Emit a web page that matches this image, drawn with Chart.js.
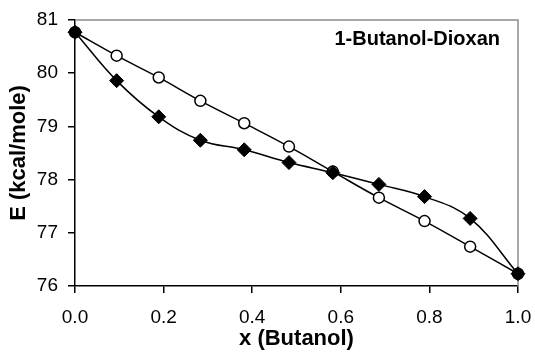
<!DOCTYPE html>
<html>
<head>
<meta charset="utf-8">
<script src="https://cdn.jsdelivr.net/npm/chart.js@4"></script>
<style>
  html, body { margin: 0; padding: 0; background: #fff; }
  #wrap { width: 535px; height: 354px; }
</style>
</head>
<body>
<div id="wrap"><canvas id="c" width="535" height="354"></canvas></div>
<script>
const xValues = [0.0, 0.094, 0.189, 0.283, 0.382, 0.483, 0.582, 0.686, 0.789, 0.892, 1.0];
const circleValues = [80.77, 80.33, 79.92, 79.48, 79.06, 78.62, 78.15, 77.66, 77.22, 76.74, 76.23];
const diamondValues = [80.77, 79.86, 79.18, 78.74, 78.56, 78.32, 78.13, 77.91, 77.68, 77.27, 76.23];
const xTicks = [0.0, 0.2, 0.4, 0.6, 0.8, 1.0];
const yTicks = [76, 77, 78, 79, 80, 81];
const chartLabel = '1-Butanol-Dioxan';
const xTitle = 'x (Butanol)';
const yTitle = 'E (kcal/mole)';

const toPoints = (xs, ys) => xs.map((x, i) => ({ x: x, y: ys[i] }));
const FONT = '"Liberation Sans", Arial, sans-serif';

const frame = {
  id: 'frame',
  beforeDatasetsDraw(chart) {
    const { ctx, chartArea: a } = chart;
    ctx.save();
    ctx.strokeStyle = '#8c8c8c';
    ctx.lineWidth = 1.5;
    ctx.beginPath();
    ctx.moveTo(a.left, a.top);
    ctx.lineTo(a.right, a.top);
    ctx.lineTo(a.right, a.bottom);
    ctx.stroke();
    ctx.restore();
  },
  afterDatasetsDraw(chart) {
    const { ctx, chartArea: a } = chart;
    ctx.save();
    ctx.fillStyle = '#000';
    ctx.font = 'bold 20px ' + FONT;
    ctx.textAlign = 'right';
    ctx.textBaseline = 'middle';
    ctx.fillText(chartLabel, a.right - 18, a.top + 19);
    ctx.restore();
  }
};

new Chart(document.getElementById('c'), {
  type: 'scatter',
  data: {
    datasets: [
      {
        label: 'diamonds',
        data: toPoints(xValues, diamondValues),
        showLine: true,
        clip: false,
        borderColor: '#000',
        borderWidth: 1.5,
        tension: 0.4,
        pointStyle: 'rectRot',
        pointRadius: 7,
        pointBackgroundColor: '#000',
        pointBorderColor: '#000',
        pointBorderWidth: 1
      },
      {
        label: 'circles',
        data: toPoints(xValues, circleValues),
        showLine: true,
        clip: false,
        borderColor: '#000',
        borderWidth: 1.5,
        tension: 0.4,
        pointStyle: 'circle',
        pointRadius: 5.5,
        pointBackgroundColor: '#fff',
        pointBorderColor: '#000',
        pointBorderWidth: 1.5
      }
    ]
  },
  options: {
    responsive: false,
    animation: false,
    layout: { autoPadding: false, padding: { left: 0, top: 20, right: 17, bottom: 0 } },
    plugins: { legend: { display: false }, tooltip: { enabled: false } },
    scales: {
      x: {
        type: 'linear',
        min: 0, max: 1,
        afterBuildTicks: (s) => { s.ticks = xTicks.map(v => ({ value: v })); },
        afterFit: (s) => { s.height = 68; s.paddingLeft = 0; s.paddingRight = 13; },
        grid: { drawOnChartArea: false, drawTicks: true, tickLength: 7, color: '#000', lineWidth: 1.5 },
        border: { color: '#000', width: 1.5 },
        ticks: {
          color: '#000',
          padding: 13,
          font: { family: FONT, size: 19 },
          callback: (v) => Number(v).toFixed(1),
          maxRotation: 0
        },
        title: {
          display: true, text: xTitle, color: '#000',
          font: { family: FONT, size: 22, weight: 'bold' },
          padding: { top: 0, bottom: 2 }
        }
      },
      y: {
        type: 'linear',
        min: 76, max: 81,
        afterBuildTicks: (s) => { s.ticks = yTicks.map(v => ({ value: v })); },
        afterFit: (s) => { s.width = 75; s.paddingTop = 10; s.paddingBottom = 10; },
        grid: { drawOnChartArea: false, drawTicks: true, tickLength: 7, color: '#000', lineWidth: 1.5 },
        border: { color: '#000', width: 1.5 },
        ticks: {
          color: '#000',
          padding: 10,
          font: { family: FONT, size: 19 },
          callback: (v) => String(v)
        },
        title: {
          display: true, text: yTitle, color: '#000',
          font: { family: FONT, size: 22, weight: 'bold' },
          padding: { top: 6, bottom: 0 }
        }
      }
    }
  },
  plugins: [frame]
});
</script>
</body>
</html>
